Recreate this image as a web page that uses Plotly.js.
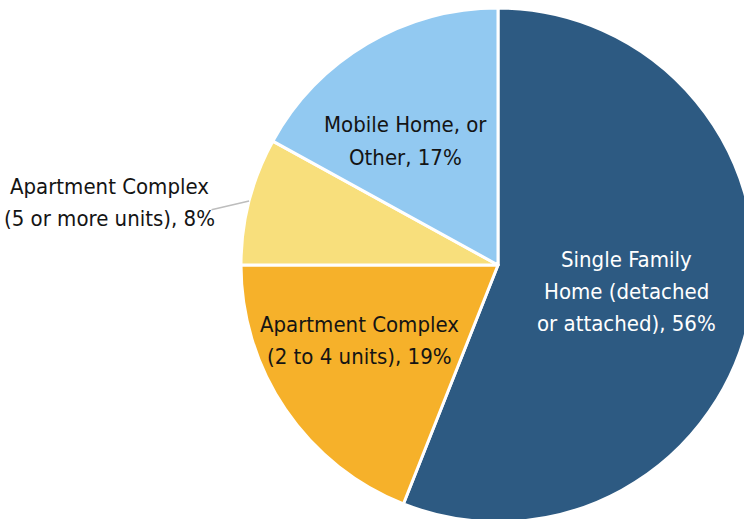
<!DOCTYPE html>
<html>
<head>
<meta charset="utf-8">
<script src="https://cdn.plot.ly/plotly-3.0.1.min.js"></script>
<style>
html, body { margin: 0; padding: 0; width: 744px; height: 519px; overflow: hidden; background: #fff; }
#chart { position: absolute; left: 0px; top: 8px; width: 996px; height: 514px; }
</style>
</head>
<body>
<div id="chart"></div>
<script>
var categories = [
  'Single Family Home (detached or attached)',
  'Apartment Complex (2 to 4 units)',
  'Apartment Complex (5 or more units)',
  'Mobile Home, or Other'
];
var labelLines = [
  ['Single Family', 'Home (detached', 'or attached)'],
  ['Apartment Complex', '(2 to 4 units)'],
  ['Apartment Complex', '(5 or more units)'],
  ['Mobile Home, or', 'Other']
];
var values = [56, 19, 8, 17];

// styles / placement (kept apart from the data)
var colors = ['#2D5A82', '#F6B12A', '#F8DF7C', '#92C9F1'];
var textColors = ['#ffffff', '#141414', '#141414', '#141414'];
var labelCenters = [[626, 291], [359, 340], [109, 202], [405, 141]]; // window px
var outsideIndex = 2;
var leaderTail = [210, 210];

var FONT = '"DejaVu Sans Condensed", "Liberation Sans Narrow", "Roboto", sans-serif';
var FS = 22, PITCH = 32;
var OFFX = 0, OFFY = 8, W = 996, H = 514;
var R = Math.min(W, H) / 2;
var CX = OFFX + W / 2, CY = OFFY + H / 2;

function px2paperX(x) { return (x - OFFX) / W; }
function px2paperY(y) { return 1 - (y - OFFY) / H; }

var trace = {
  type: 'pie',
  labels: categories,
  values: values,
  sort: false,
  direction: 'clockwise',
  rotation: 0,
  marker: { colors: colors, line: { color: '#ffffff', width: 3 } },
  textinfo: 'none',
  hoverinfo: 'label+percent',
  showlegend: false
};

var total = values.reduce(function (a, b) { return a + b; }, 0);
var annotations = [];
categories.forEach(function (c, i) {
  var lines = labelLines[i].slice();
  lines[lines.length - 1] += ', ' + Math.round(values[i] / total * 100) + '%';
  var n = lines.length;
  lines.forEach(function (ln, k) {
    var y = labelCenters[i][1] + (k - (n - 1) / 2) * PITCH;
    annotations.push({
      xref: 'paper', yref: 'paper',
      x: px2paperX(labelCenters[i][0]), y: px2paperY(y),
      text: ln, showarrow: false,
      xanchor: 'center', yanchor: 'middle',
      font: { family: FONT, size: FS, color: textColors[i] }
    });
  });
});

// leader line for the small slice: from the label to the rim at the slice's mid-angle
var before = 0;
for (var i = 0; i < outsideIndex; i++) before += values[i];
var mid = (before + values[outsideIndex] / 2) / total * 2 * Math.PI;
var hx = CX + R * Math.sin(mid);
var hy = CY - R * Math.cos(mid);
annotations.push({
  xref: 'paper', yref: 'paper',
  x: px2paperX(hx), y: px2paperY(hy),
  text: '', showarrow: true, arrowhead: 0, arrowwidth: 1.5, arrowcolor: '#BDBDBD',
  ax: leaderTail[0] - hx, ay: leaderTail[1] - hy, standoff: 0, startstandoff: 0
});

var layout = {
  width: W, height: H,
  margin: { l: 0, r: 0, t: 0, b: 0, pad: 0 },
  paper_bgcolor: '#ffffff',
  showlegend: false,
  annotations: annotations
};

Plotly.newPlot('chart', [trace], layout, { displayModeBar: false, staticPlot: true });
</script>
</body>
</html>
